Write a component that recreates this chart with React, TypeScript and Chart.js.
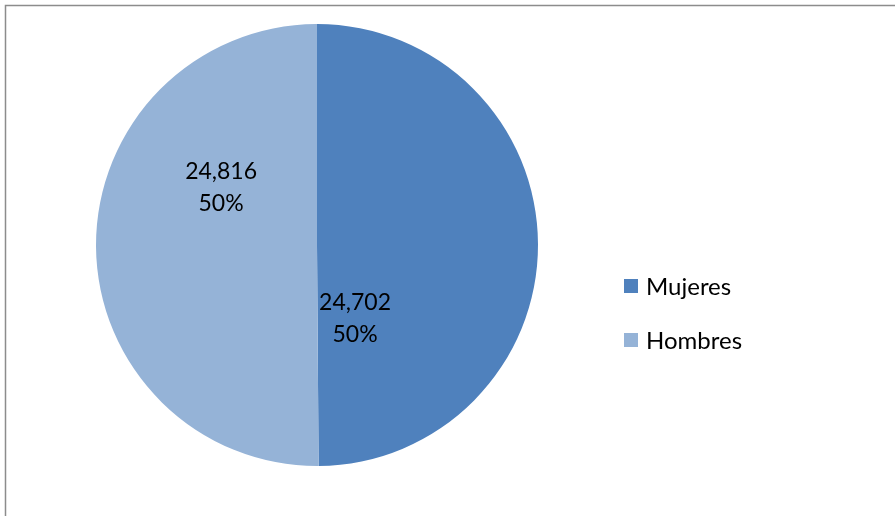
import React, { useEffect, useRef } from "react";
import { Chart, registerables } from "chart.js";

Chart.register(...registerables);

const categories = ["Mujeres", "Hombres"];
const values = [24702, 24816];
const colors = ["#4F81BD", "#95B3D7"];
// label offsets relative to pie center, in fractions of radius
const labelOffsets = [
  [0.172, 0.335],
  [-0.434, -0.262],
];

const FONT = "Lato, 'Open Sans', sans-serif";

const framePlugin = {
  id: "frame",
  beforeDraw(chart: any) {
    const ctx = chart.ctx;
    ctx.save();
    ctx.fillStyle = "#ffffff";
    ctx.fillRect(0, 0, chart.width, chart.height);
    ctx.strokeStyle = "#8c8c8c";
    ctx.lineWidth = 1.5;
    ctx.strokeRect(5.5, 5.5, chart.width + 20, chart.height + 20);
    ctx.restore();
  },
};

const labelPlugin = {
  id: "sliceLabels",
  afterDatasetsDraw(chart: any) {
    const ctx = chart.ctx;
    const meta = chart.getDatasetMeta(0);
    const data = chart.data.datasets[0].data as number[];
    const total = data.reduce((a, b) => a + b, 0);
    ctx.save();
    ctx.fillStyle = "#000";
    ctx.font = `23px ${FONT}`;
    ctx.textAlign = "center";
    ctx.textBaseline = "middle";
    meta.data.forEach((arc: any, i: number) => {
      const r = arc.outerRadius;
      const x = arc.x + labelOffsets[i][0] * r;
      const y = arc.y + labelOffsets[i][1] * r;
      const v = data[i];
      ctx.fillText(v.toLocaleString("en-US"), x, y - 16);
      ctx.fillText(Math.round((v / total) * 100) + "%", x, y + 16);
    });
    ctx.restore();
  },
};

const legendPlugin = {
  id: "customLegend",
  afterDraw(chart: any) {
    const ctx = chart.ctx;
    const labels = chart.data.labels as string[];
    const bg = chart.data.datasets[0].backgroundColor as string[];
    const x0 = 624;
    const yStart = 286;
    const gap = 54;
    ctx.save();
    ctx.font = `24px ${FONT}`;
    ctx.textBaseline = "middle";
    ctx.textAlign = "left";
    labels.forEach((lab, i) => {
      const y = yStart + i * gap;
      ctx.fillStyle = bg[i];
      ctx.fillRect(x0, y - 7, 14, 14);
      ctx.fillStyle = "#000";
      ctx.fillText(lab, x0 + 22, y + 1);
    });
    ctx.restore();
  },
};

export default function App() {
  const ref = useRef<HTMLCanvasElement>(null);
  useEffect(() => {
    if (!ref.current) return;
    const chart = new Chart(ref.current, {
      type: "pie",
      data: {
        labels: categories,
        datasets: [
          {
            data: values,
            backgroundColor: colors,
            borderWidth: 0,
          },
        ],
      },
      options: {
        responsive: false,
        animation: false,
        layout: { padding: { left: 96, top: 24, right: 357, bottom: 50 } },
        plugins: {
          legend: { display: false },
          tooltip: { enabled: false },
        },
      },
      plugins: [framePlugin, labelPlugin, legendPlugin],
    });
    return () => chart.destroy();
  }, []);
  return (
    <div style={{ position: "absolute", left: 0, top: 0, width: 895, height: 516 }}>
      <canvas ref={ref} width={895} height={516} />
    </div>
  );
}
